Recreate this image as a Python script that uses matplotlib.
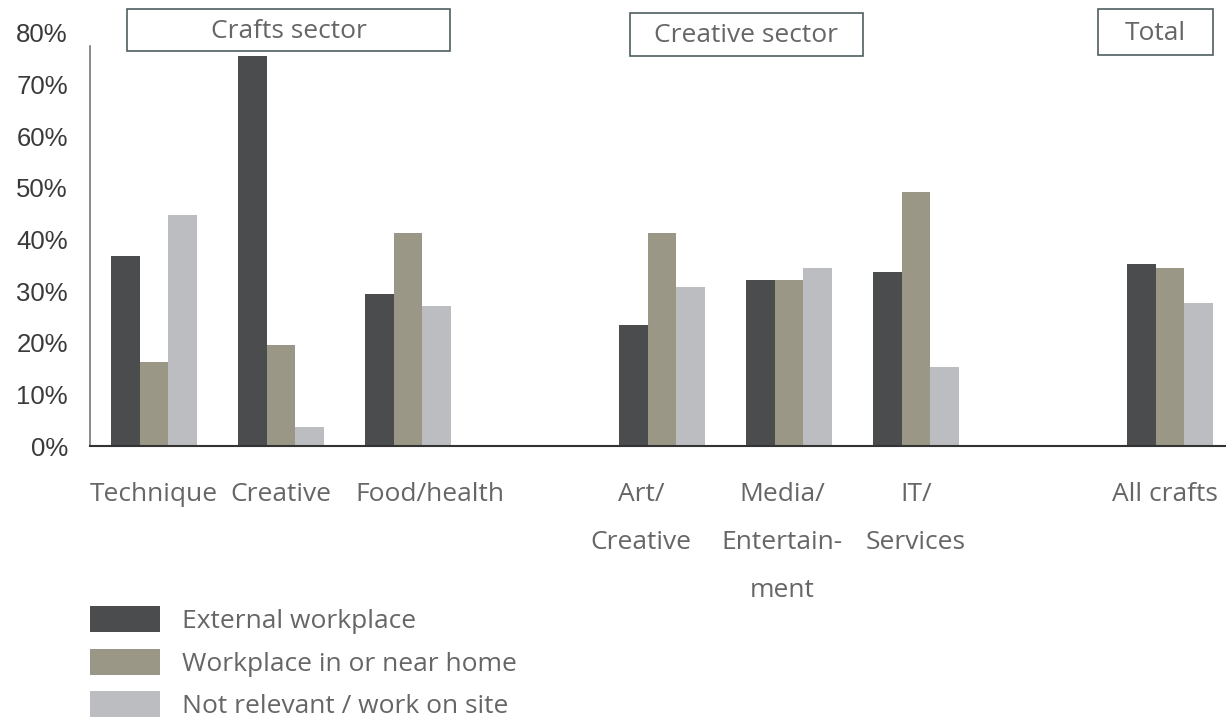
import matplotlib
matplotlib.use("Agg")
import matplotlib.pyplot as plt
import matplotlib.transforms as mtransforms
from matplotlib.patches import Rectangle

# share of respondents by where they work, per sector
categories = ["Technique", "Creative", "Food/health",
              "Art/\nCreative", "Media/\nEntertain-\nment", "IT/\nServices",
              "All crafts"]
slots = [0, 1, 2, 4, 5, 6, 8]  # gaps between sector groups
external = [36.8, 75.6, 29.5, 23.4, 32.2, 33.7, 35.3]
near_home = [16.3, 19.6, 41.3, 41.3, 32.2, 49.2, 34.5]
not_relevant = [44.8, 3.7, 27.1, 30.8, 34.5, 15.3, 27.7]

series = [
    ("External workplace", external, "#4b4c4e"),
    ("Workplace in or near home", near_home, "#9a9787"),
    ("Not relevant / work on site", not_relevant, "#bcbdc1"),
]
yticks = [0, 10, 20, 30, 40, 50, 60, 70, 80]

W, H = 1226, 722
fig = plt.figure(figsize=(W / 100, H / 100), dpi=100)
ax = fig.add_axes([90 / W, 1 - 446 / H, 1 - 90 / W, (446 - 33) / H])

text_font = ["Open Sans", "DejaVu Sans"]
text_color = "#666666"
fs = 19

bw = 0.225
for i, (name, vals, col) in enumerate(series):
    xs = [s + (i - 1) * bw for s in slots]
    ax.bar(xs, vals, width=bw, color=col, label=name, linewidth=0)

ax.set_xlim(-0.504, 8.44)
ax.set_ylim(0, 80)
ax.set_yticks(yticks)
ax.set_yticklabels([f"{v}%" for v in yticks], family="Liberation Sans",
                   fontsize=18.5, color="#3a3a3a")
ax.set_xticks(slots)
ax.set_xticklabels(categories, family=text_font, fontsize=fs,
                   color=text_color, linespacing=2.2, va="top")
ax.tick_params(axis="y", length=0, pad=16)
ax.tick_params(axis="x", length=0, pad=26)

# nudge a few crowded category labels sideways (points)
nudge = {2: 16, 3: -15, 4: -5, 6: -4}
for idx, dx in nudge.items():
    lbl = ax.get_xticklabels()[idx]
    lbl.set_transform(lbl.get_transform() +
                      mtransforms.ScaledTranslation(dx / 72, 0, fig.dpi_scale_trans))

for side in ["top", "right"]:
    ax.spines[side].set_visible(False)
ax.spines["left"].set_bounds(0, 77.5)
ax.spines["left"].set_color("#777777")
ax.spines["left"].set_linewidth(1.2)
ax.spines["bottom"].set_color("#333333")
ax.spines["bottom"].set_linewidth(1.5)

# sector header boxes (pixel boxes: x0, x1, y0, y1)
headers = [("Crafts sector", 127, 450, 9, 51),
           ("Creative sector", 630, 863, 13, 56),
           ("Total", 1098, 1213, 9, 55)]
for label, x0, x1, y0, y1 in headers:
    fig.add_artist(Rectangle((x0 / W, 1 - y1 / H), (x1 - x0) / W, (y1 - y0) / H,
                             transform=fig.transFigure, fill=False,
                             edgecolor="#4f5f60", linewidth=1.2))
    fig.text((x0 + x1) / 2 / W, 1 - (y0 + y1 + 2) / 2 / H, label,
             ha="center", va="center", family=text_font, fontsize=fs,
             color=text_color)

fig.legend(loc="upper left", bbox_to_anchor=(90 / W, 1 - 606 / H),
           frameon=False, borderpad=0, borderaxespad=0,
           prop={"family": text_font, "size": fs},
           labelcolor=text_color, handlelength=2.65, handleheight=1.15,
           handletextpad=0.83, labelspacing=0.55)

fig.savefig("out.png", dpi=100)
